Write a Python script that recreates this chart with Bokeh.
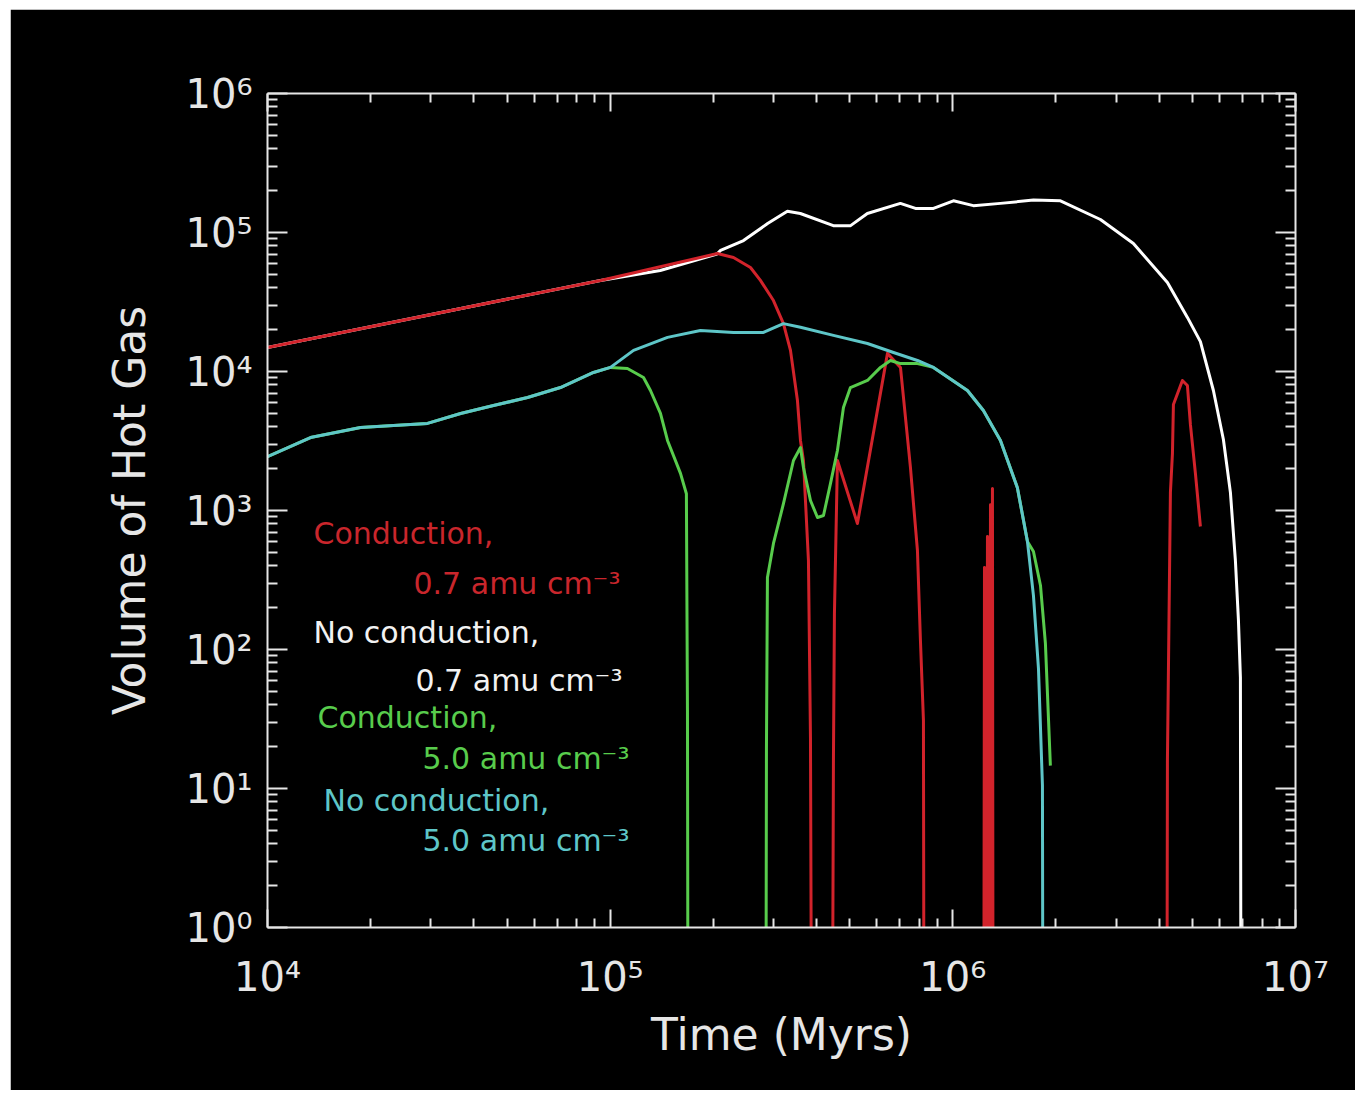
from bokeh.plotting import figure
from bokeh.models import (LogAxis, FixedTicker, CustomJSTickFormatter, Label)
from bokeh.embed import file_html
from bokeh.resources import INLINE

# ---- hot-gas volume vs time; 1e-3 marks "no hot gas" (below the axis) ----
# No conduction, 0.7 amu cm^-3
time_nc07 = [1.0e4, 9.37e4, 1.40e5, 2.05e5, 2.10e5, 2.45e5, 2.88e5, 3.29e5,
             3.59e5, 4.48e5, 5.03e5, 5.63e5, 7.03e5, 7.78e5, 8.78e5, 1.004e6,
             1.148e6, 1.377e6, 1.719e6, 2.061e6, 2.696e6, 3.365e6, 4.229e6,
             4.837e6, 5.278e6, 5.760e6, 6.160e6, 6.457e6, 6.677e6, 6.814e6,
             6.906e6, 6.953e6]
vol_nc07 = [1.49e4, 4.52e4, 5.33e4, 7.0e4, 7.43e4, 8.75e4, 1.16e5, 1.42e5,
            1.37e5, 1.12e5, 1.12e5, 1.37e5, 1.62e5, 1.49e5, 1.49e5, 1.69e5,
            1.56e5, 1.62e5, 1.71e5, 1.69e5, 1.24e5, 8.33e4, 4.37e4,
            2.45e4, 1.64e4, 7.30e3, 3.24e3, 1.35e3, 437, 164,
            62.9, 1e-3]

# Conduction, 0.7 amu cm^-3
time_c07 = [1.0e4, 9.37e4, 2.056e5, 2.29e5, 2.567e5, 2.745e5, 2.996e5, 3.204e5,
            3.359e5, 3.52e5, 3.592e5, 3.665e5, 3.79e5, 3.842e5, 3.894e5, 4.423e5,
            4.483e5, 4.513e5, 4.605e5, 5.267e5, 6.446e5, 7.034e5, 7.521e5,
            7.883e5, 8.044e5, 8.208e5, 8.263e5, 1.228e6, 1.237e6, 1.250e6,
            1.262e6, 1.275e6, 1.288e6, 1.300e6, 1.305e6, 1.313e6, 4.201e6,
            4.229e6, 4.315e6, 4.374e6, 4.403e6, 4.677e6, 4.837e6, 4.935e6,
            5.104e6, 5.278e6]
vol_c07 = [1.49e4, 4.52e4, 7.06e4, 6.61e4, 5.60e4, 4.52e4, 3.24e4, 2.21e4,
           1.42e4, 6.18e3, 3.19e3, 2.29e3, 437, 23.3, 1e-3, 1e-3,
           15.9, 181, 2.29e3, 806, 1.35e4, 1.07e4, 2.04e3,
           516, 116, 30.8, 1e-3, 1e-3, 389, 1e-3,
           650, 1e-3, 1.1e3, 1e-3, 1.44e3, 1e-3, 1e-3,
           15.9, 1.35e3, 2.57e3, 5.79e3, 8.62e3, 7.93e3, 4.16e3,
           1.85e3, 767]

# Conduction, 5.0 amu cm^-3
time_c50 = [1.0e4, 1.335e4, 1.868e4, 2.332e4, 2.93e4, 3.66e4, 4.565e4, 5.74e4,
            7.16e4, 8.94e4, 1.002e5, 1.123e5, 1.251e5, 1.311e5, 1.402e5, 1.47e5,
            1.604e5, 1.669e5, 1.681e5, 1.692e5, 2.839e5, 2.858e5, 2.877e5,
            2.996e5, 3.204e5, 3.427e5, 3.592e5, 3.665e5, 3.842e5, 4.027e5,
            4.193e5, 4.394e5, 4.605e5, 4.795e5, 5.025e5, 5.634e5, 6.15e5,
            6.577e5, 7.034e5, 7.883e5, 8.779e5, 1.103e6, 1.228e6, 1.377e6,
            1.543e6, 1.651e6, 1.719e6, 1.802e6, 1.863e6, 1.901e6, 1.926e6]
vol_c50 = [2.44e3, 3.35e3, 3.96e3, 4.09e3, 4.23e3, 4.99e3, 5.69e3, 6.50e3,
           7.67e3, 9.84e3, 1.07e4, 1.05e4, 9.06e3, 7.30e3, 4.99e3, 3.19e3,
           1.85e3, 1.32e3, 36.4, 1e-3, 1e-3, 18.8, 330,
           579, 1.12e3, 2.29e3, 2.84e3, 2.04e3, 1.18e3, 891,
           920, 1.56e3, 2.70e3, 5.51e3, 7.67e3, 8.62e3, 1.07e4,
           1.20e4, 1.14e4, 1.14e4, 1.07e4, 7.30e3, 5.24e3, 3.19e3,
           1.46e3, 598, 507, 289, 110, 32.4, 14.6]

# No conduction, 5.0 amu cm^-3
time_nc50 = [1.0e4, 1.335e4, 1.868e4, 2.332e4, 2.93e4, 3.66e4, 4.565e4, 5.74e4,
             7.16e4, 8.94e4, 1.002e5, 1.170e5, 1.470e5, 1.834e5, 2.290e5,
             2.801e5, 3.204e5, 3.592e5, 4.483e5, 5.634e5, 6.711e5, 7.883e5,
             8.779e5, 1.103e6, 1.228e6, 1.377e6, 1.543e6, 1.651e6, 1.719e6,
             1.778e6, 1.826e6, 1.838e6]
vol_nc50 = [2.44e3, 3.35e3, 3.96e3, 4.09e3, 4.23e3, 4.99e3, 5.69e3, 6.50e3,
            7.67e3, 9.84e3, 1.07e4, 1.42e4, 1.76e4, 1.97e4, 1.91e4,
            1.91e4, 2.21e4, 2.08e4, 1.82e4, 1.59e4, 1.37e4, 1.20e4,
            1.07e4, 7.30e3, 5.24e3, 3.19e3, 1.46e3, 598, 244,
            72.9, 10.5, 1e-3]

# ---- axes ----
x_major = [1e4, 1e5, 1e6, 1e7]
y_major = [1e0, 1e1, 1e2, 1e3, 1e4, 1e5, 1e6]
x_tick_labels = ["10⁴", "10⁵", "10⁶", "10⁷"]
y_tick_labels = ["10⁰", "10¹", "10²", "10³", "10⁴", "10⁵", "10⁶"]

# ---- legend text ----
legend_lines = ["Conduction,", "0.7 amu cm⁻³", "No conduction,", "0.7 amu cm⁻³",
                "Conduction,", "5.0 amu cm⁻³", "No conduction,", "5.0 amu cm⁻³"]

RED = "#d2232b"
WHITE = "#ffffff"
GREEN = "#58cc4c"
CYAN = "#5ec6c8"
AXIS = "#e6e6e6"
FONT = "DejaVu Sans"

p = figure(width=1345, height=1081, x_axis_type="log", y_axis_type="log",
           x_range=(1e4, 1e7), y_range=(1e0, 1e6),
           output_backend="svg", toolbar_location=None,
           background_fill_color="black", border_fill_color="black",
           min_border_left=257, min_border_right=60,
           min_border_top=84, min_border_bottom=163)
p.margin = (9, 8, 5, 10)
p.outline_line_color = None
p.grid.visible = False

x_minor = [m * 10.0 ** k for k in range(4, 7) for m in range(2, 10)]
y_minor = [m * 10.0 ** k for k in range(0, 6) for m in range(2, 10)]
x_ticker = FixedTicker(ticks=x_major, minor_ticks=x_minor)
y_ticker = FixedTicker(ticks=y_major, minor_ticks=y_minor)


def style_axis(ax, major_len, minor_len):
    ax.axis_line_color = AXIS
    ax.axis_line_width = 2
    ax.major_tick_line_color = AXIS
    ax.major_tick_line_width = 2
    ax.minor_tick_line_color = AXIS
    ax.minor_tick_line_width = 2
    ax.major_tick_in = major_len
    ax.major_tick_out = 0
    ax.minor_tick_in = minor_len
    ax.minor_tick_out = 0


xax = p.xaxis[0]
xax.ticker = x_ticker
style_axis(xax, 18, 9)
xax.formatter = CustomJSTickFormatter(
    args=dict(labels=x_tick_labels),
    code="return labels[Math.round(Math.log10(tick)) - 4];")
xax.major_label_text_font = FONT
xax.major_label_text_font_size = "40px"
xax.major_label_text_color = AXIS
xax.major_label_standoff = 26
xax.axis_label = "Time (Myrs)"
xax.axis_label_text_font = FONT
xax.axis_label_text_font_size = "44px"
xax.axis_label_text_font_style = "normal"
xax.axis_label_text_color = AXIS
xax.axis_label_standoff = 6

yax = p.yaxis[0]
yax.ticker = y_ticker
style_axis(yax, 20, 10)
yax.formatter = CustomJSTickFormatter(
    args=dict(labels=y_tick_labels),
    code="return labels[Math.round(Math.log10(tick))];")
yax.major_label_text_font = FONT
yax.major_label_text_font_size = "40px"
yax.major_label_text_color = AXIS
yax.major_label_standoff = 15
yax.axis_label = "Volume of Hot Gas"
yax.axis_label_text_font = FONT
yax.axis_label_text_font_size = "44px"
yax.axis_label_text_font_style = "normal"
yax.axis_label_text_color = AXIS
yax.axis_label_standoff = 28

top = LogAxis(ticker=x_ticker, major_label_text_font_size="8px",
              major_label_text_color=None)
style_axis(top, 18, 9)
p.add_layout(top, "above")
right = LogAxis(ticker=y_ticker, major_label_text_font_size="8px",
                major_label_text_color=None)
style_axis(right, 20, 10)
p.add_layout(right, "right")

# ---- curves ----
lw = 3
p.line(time_nc07, vol_nc07, line_color=WHITE, line_width=lw, line_join="round")
p.line(time_c07, vol_c07, line_color=RED, line_width=lw, line_join="round")
p.line(time_c50, vol_c50, line_color=GREEN, line_width=lw, line_join="round")
p.line(time_nc50, vol_nc50, line_color=CYAN, line_width=lw, line_join="round")

# ---- in-plot key ----
legend_colors = ["#c9262c", "#c9262c", "#f2f2f2", "#f2f2f2",
                 GREEN, GREEN, CYAN, CYAN]
legend_pos = [(46, 394), (146, 344), (46, 295), (148, 247),
              (50, 210), (155, 169), (56, 127), (155, 87)]
for txt, col, (sx, sy) in zip(legend_lines, legend_colors, legend_pos):
    p.add_layout(Label(x=sx, y=sy, x_units="screen", y_units="screen",
                       text=txt, text_color=col, text_font=FONT,
                       text_font_size="30px", text_baseline="middle"))

with open("out.html", "w", encoding="utf-8") as f:
    f.write(file_html(p, INLINE))
